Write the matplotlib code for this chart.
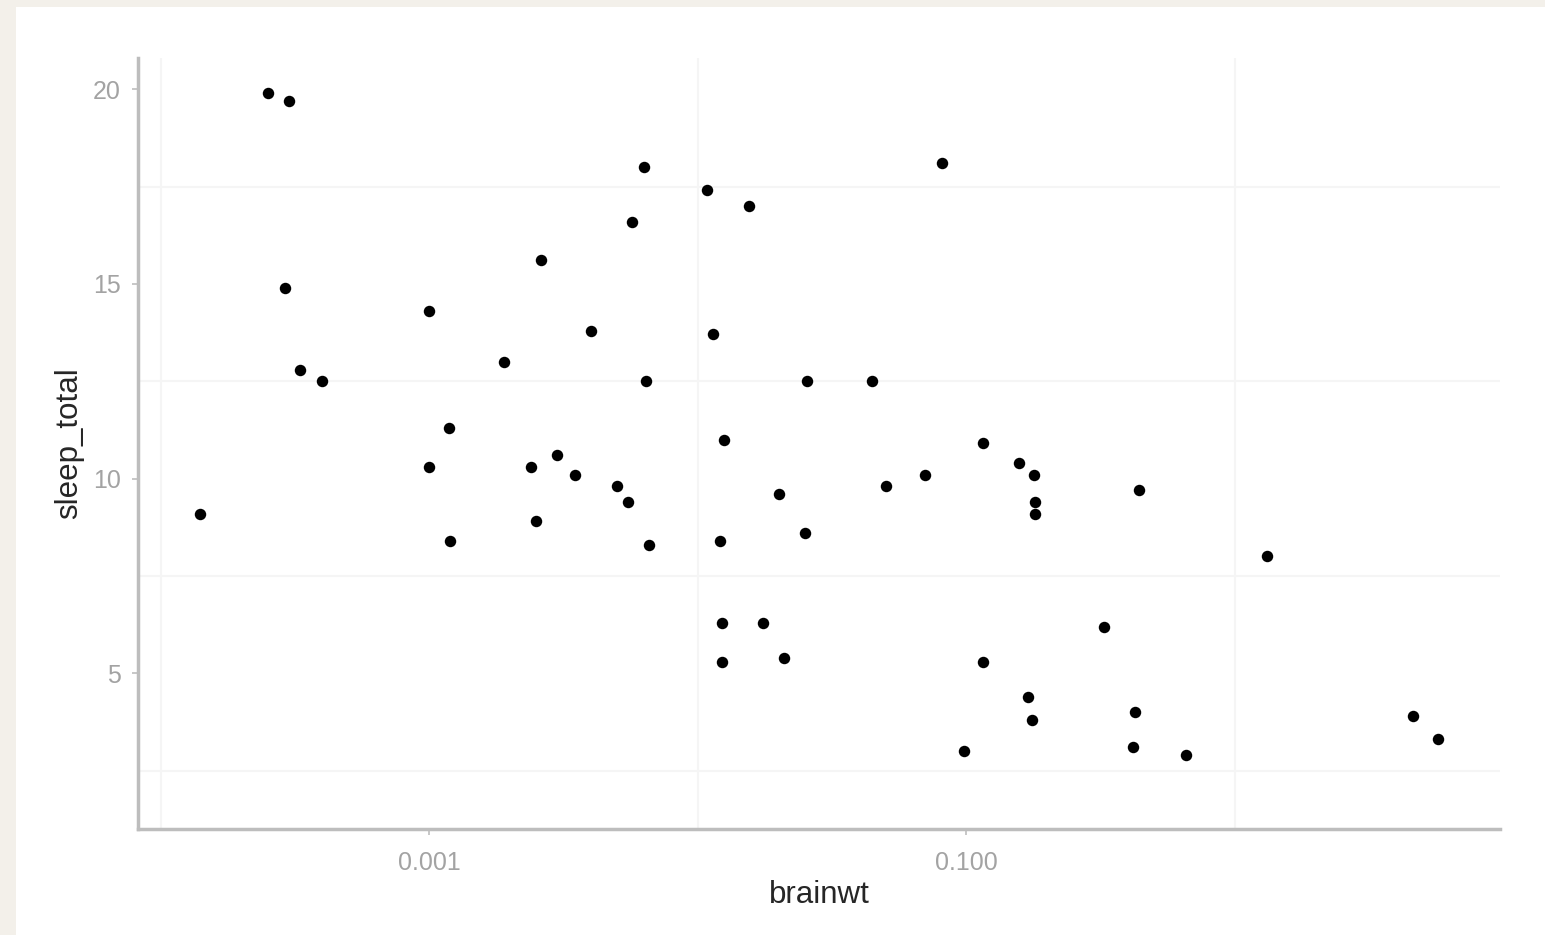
import numpy as np
import matplotlib
matplotlib.use("Agg")
import matplotlib.pyplot as plt
from matplotlib.patches import Rectangle
from matplotlib.ticker import NullFormatter

# Brain weight (kg) and total daily sleep (h) for mammals with a recorded brain weight
brainwt = [0.00014, 0.00025, 0.0003, 0.00029, 0.00033, 0.0004, 0.001, 0.001,
           0.00118, 0.0012, 0.0019, 0.0024, 0.0025, 0.0026, 0.003, 0.0035,
           0.004, 0.005, 0.0055, 0.0057, 0.0063, 0.0064, 0.0066, 0.0108,
           0.0114, 0.0121, 0.01227, 0.0123, 0.0125, 0.0155, 0.0175, 0.02,
           0.021, 0.025, 0.0256, 0.0445, 0.0504, 0.07, 0.081, 0.0982,
           0.115, 0.115, 0.157, 0.169, 0.175, 0.179, 0.18, 0.18,
           0.325, 0.423, 0.419, 0.44, 0.655, 1.32, 4.603, 5.712]
sleep_total = [9.1, 19.9, 19.7, 14.9, 12.8, 12.5, 14.3, 10.3,
               11.3, 8.4, 13.0, 10.3, 8.9, 15.6, 10.6, 10.1,
               13.8, 9.8, 9.4, 16.6, 18.0, 12.5, 8.3, 17.4,
               13.7, 8.4, 6.3, 5.3, 11.0, 17.0, 6.3, 9.6,
               5.4, 8.6, 12.5, 12.5, 9.8, 10.1, 18.1, 3.0,
               10.9, 5.3, 10.4, 4.4, 3.8, 10.1, 9.4, 9.1,
               6.2, 4.0, 3.1, 9.7, 2.9, 8.0, 3.9, 3.3]

x_major = [0.001, 0.1]
x_major_labels = ["0.001", "0.100"]
x_minor = [1e-4, 1e-2, 1.0]
y_major = [5, 10, 15, 20]
y_minor = [2.5, 7.5, 12.5, 17.5]

plt.rcParams["font.family"] = ["Liberation Sans", "DejaVu Sans"]

W, H = 1545, 935
fig = plt.figure(figsize=(W / 100, H / 100), dpi=100, facecolor="white")

# beige page border on the left and top
beige = "#F3F0EA"
fig.patches.append(Rectangle((0, 0), 16 / W, 1, transform=fig.transFigure,
                             facecolor=beige, edgecolor="none", zorder=0))
fig.patches.append(Rectangle((0, 1 - 7 / H), 1, 7 / H, transform=fig.transFigure,
                             facecolor=beige, edgecolor="none", zorder=0))

left, right, top, bottom = 138, 1500, 58, 829
ax = fig.add_axes([left / W, 1 - bottom / H, (right - left) / W, (bottom - top) / H])
ax.set_facecolor("white")

ax.scatter(brainwt, sleep_total, s=68, color="black", linewidths=0, zorder=3)

ax.set_xscale("log")
lo, hi = np.log10(min(brainwt)), np.log10(max(brainwt))
pad = 0.05 * (hi - lo)
ax.set_xlim(10 ** (lo - pad), 10 ** (hi + pad))
ax.set_ylim(1.0, 20.8)

ax.set_xticks(x_major)
ax.set_xticklabels(x_major_labels)
ax.set_xticks(x_minor, minor=True)
ax.xaxis.set_minor_formatter(NullFormatter())
ax.set_yticks(y_major)
ax.set_yticks(y_minor, minor=True)
ax.yaxis.set_minor_formatter(NullFormatter())

ax.grid(False, which="major")
ax.grid(True, which="minor", color="#F5F5F5", linewidth=1.5, zorder=0)
ax.tick_params(which="minor", length=0)

axis_grey = "#BDBDBD"
for side in ("top", "right"):
    ax.spines[side].set_visible(False)
for side in ("left", "bottom"):
    ax.spines[side].set_color(axis_grey)
    ax.spines[side].set_linewidth(2.5)
    ax.spines[side].set_capstyle("projecting")

ax.tick_params(which="major", length=4.5, width=1.2, color=axis_grey,
               labelcolor="#A3A3A3", labelsize=18)
ax.tick_params(axis="x", which="major", pad=11)
ax.tick_params(axis="y", which="major", pad=8)

ax.set_xlabel("brainwt", fontsize=22.5, color="#262626", va="baseline")
ax.xaxis.set_label_coords(0.5, (bottom - 903) / (bottom - top))
ax.set_ylabel("sleep_total", fontsize=22.5, color="#262626", va="baseline",
              rotation_mode="anchor")
ax.yaxis.set_label_coords((77 - left) / (right - left), 0.5)

fig.savefig("out.png", dpi=100, facecolor=fig.get_facecolor())
